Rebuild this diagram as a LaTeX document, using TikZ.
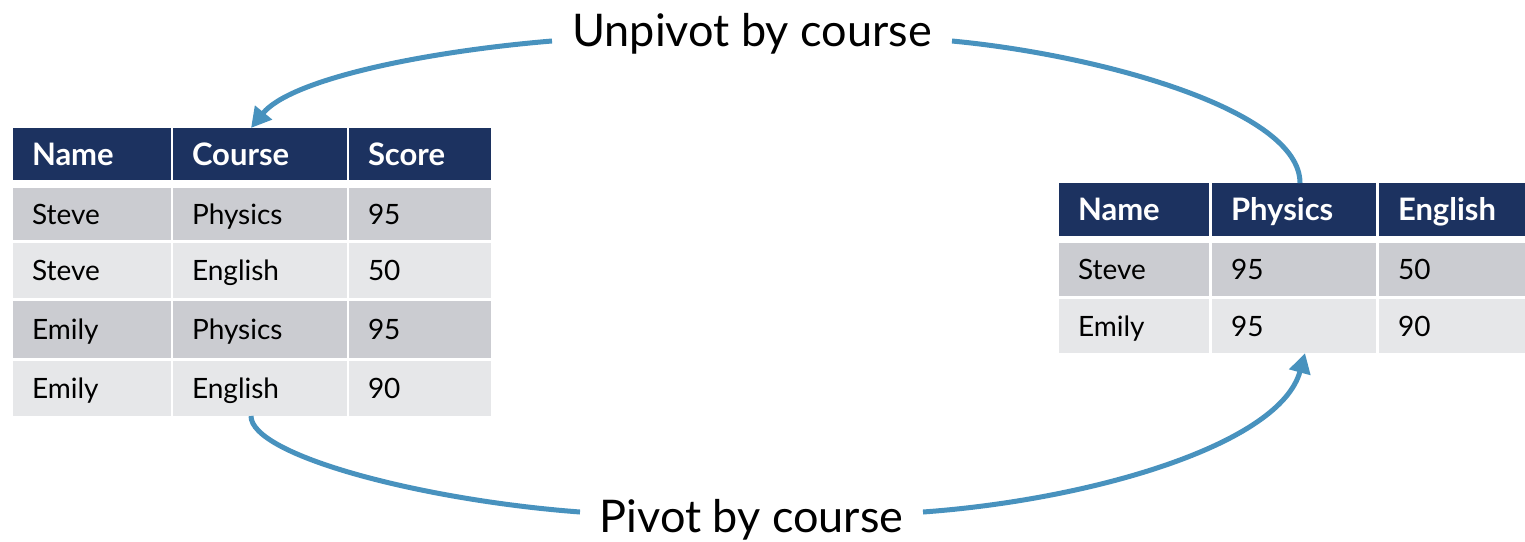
\documentclass[tikz,border=0pt]{standalone}
\usepackage{fontspec}
\setmainfont{Lato}
\usetikzlibrary{arrows.meta}
\definecolor{navy}{RGB}{28,50,96}
\definecolor{rowdark}{RGB}{203,204,209}
\definecolor{rowlight}{RGB}{230,231,233}
\definecolor{arrowblue}{RGB}{72,146,190}
\tikzset{
  cell/.style={anchor=north west, inner xsep=19pt, inner ysep=0pt, outer sep=0pt, align=left,
    text height=20pt, text depth=0pt, font=\fontsize{28}{30}\selectfont, text=black},
  hdr/.style={cell, fill=navy, text=white, font=\bfseries\fontsize{31}{33}\selectfont, text height=22pt},
  rA/.style={cell, fill=rowdark},
  rB/.style={cell, fill=rowlight},
  lab/.style={inner sep=0pt, outer sep=0pt, text height=32pt, text depth=0pt, font=\fontsize{45}{50}\selectfont},
  conn/.style={draw=arrowblue, line width=5pt},
  tip/.style={-{Triangle[length=20pt,width=21pt]}}
}
\begin{document}
\begin{tikzpicture}[x=1pt,y=-1pt]
\useasboundingbox (0,0) rectangle (1525,541);
% left table
\node[hdr, text width=120pt, minimum height=52pt] (L11) at (13,128) {Name};
\node[hdr, text width=136pt, minimum height=52pt] (L12) at (173,128) {Course};
\node[hdr, text width=104pt, minimum height=52pt] (L13) at (349,128) {Score};
\node[rA, text width=120pt, minimum height=52pt] (L21) at (13,188) {Steve};
\node[rA, text width=136pt, minimum height=52pt] (L22) at (173,188) {Physics};
\node[rA, text width=104pt, minimum height=52pt] (L23) at (349,188) {95};
\node[rB, text width=120pt, minimum height=55pt] (L31) at (13,243) {Steve};
\node[rB, text width=136pt, minimum height=55pt] (L32) at (173,243) {English};
\node[rB, text width=104pt, minimum height=55pt] (L33) at (349,243) {50};
\node[rA, text width=120pt, minimum height=57pt] (L41) at (13,301) {Emily};
\node[rA, text width=136pt, minimum height=57pt] (L42) at (173,301) {Physics};
\node[rA, text width=104pt, minimum height=57pt] (L43) at (349,301) {95};
\node[rB, text width=120pt, minimum height=55pt] (L51) at (13,361) {Emily};
\node[rB, text width=136pt, minimum height=55pt] (L52) at (173,361) {English};
\node[rB, text width=104pt, minimum height=55pt] (L53) at (349,361) {90};
% right table
\node[hdr, text width=112pt, minimum height=53pt] (R11) at (1059,183) {Name};
\node[hdr, text width=126pt, minimum height=53pt] (R12) at (1212,183) {Physics};
\node[hdr, text width=108pt, minimum height=53pt] (R13) at (1379,183) {English};
\node[rA, text width=112pt, minimum height=53pt] (R21) at (1059,243) {Steve};
\node[rA, text width=126pt, minimum height=53pt] (R22) at (1212,243) {95};
\node[rA, text width=108pt, minimum height=53pt] (R23) at (1379,243) {50};
\node[rB, text width=112pt, minimum height=54pt] (R31) at (1059,299) {Emily};
\node[rB, text width=126pt, minimum height=54pt] (R32) at (1212,299) {95};
\node[rB, text width=108pt, minimum height=54pt] (R33) at (1379,299) {90};
% labels
\node[lab, minimum width=400pt] (U) at (752,30) {Unpivot by course};
\node[lab, minimum width=343pt] (P) at (751.5,516) {Pivot by course};
% connectors
\draw[conn] ([xshift=6pt]R12.north) .. controls (1300,110) and (1100,55) .. ([yshift=-11pt]U.east);
\draw[conn, tip] ([yshift=-11pt]U.west) .. controls (420,52) and (290,80) .. ([xshift=-9pt]L12.north);
\draw[conn] ([xshift=-9pt]L52.south) .. controls (251,455) and (420,500) .. ([yshift=4pt]P.west);
\draw[conn, tip] ([yshift=4pt]P.east) .. controls (1090,500) and (1280,445) .. ([xshift=11pt]R32.south);
\end{tikzpicture}
\end{document}
